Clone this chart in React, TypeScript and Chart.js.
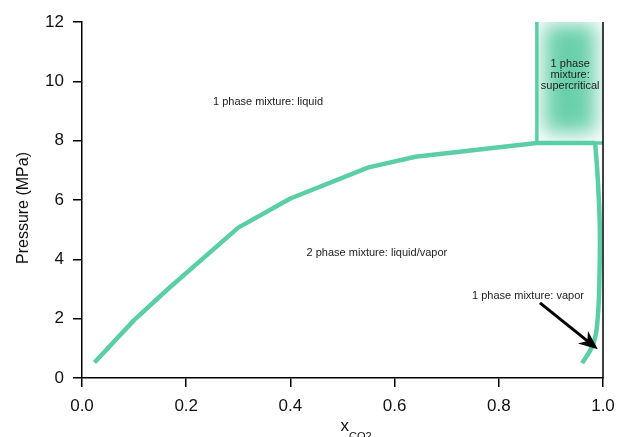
import React, { useEffect, useRef } from "react";
import { Chart, registerables } from "chart.js";

Chart.register(...registerables);

// Phase boundary: bubble (liquid) curve then the flat critical segment
const liquidX = [0.024, 0.1, 0.165, 0.3, 0.4, 0.55, 0.64, 0.873, 0.985];
const liquidP = [0.52, 1.95, 3.0, 5.07, 6.05, 7.1, 7.46, 7.92, 7.92];
// Dew (vapor) curve
const vaporX = [0.985, 0.99, 0.994, 0.993, 0.99, 0.982, 0.96];
const vaporP = [7.92, 6.7, 5.0, 3.3, 2.06, 1.18, 0.5];
// Supercritical box edges
const boxVertX = [0.873, 0.873];
const boxVertP = [7.92, 12];
const boxHorX = [0.873, 1.0];
const boxHorP = [7.92, 7.92];
const boxRangeX = [0.873, 1.0];
const boxRangeP = [7.92, 12];

const xTicks = [0, 0.2, 0.4, 0.6, 0.8, 1.0];
const yTicks = [0, 2, 4, 6, 8, 10, 12];

const labelTexts = ["1 phase mixture: liquid", "2 phase mixture: liquid/vapor", "1 phase mixture: vapor"];
const labelX = [0.357, 0.566, 0.856];
const labelP = [9.3, 4.21, 2.76];
const superLines = ["1 phase", "mixture:", "supercritical"];
const superX = 0.937;
const superP = 10.2;

const arrowFromX = 0.879;
const arrowFromP = 2.53;
const arrowToX = 0.990;
const arrowToP = 0.97;

const TEAL = "rgb(92,206,166)";
const FONT = "'Liberation Sans', Arial, Helvetica, sans-serif";

const pts = (xs: number[], ys: number[]) => xs.map((x, i) => ({ x, y: ys[i] }));

export default function App() {
  const ref = useRef<HTMLCanvasElement | null>(null);
  useEffect(() => {
    document.body.style.margin = "0";
    const canvas = ref.current!;
    const decor = {
      id: "decor",
      beforeDatasetsDraw(chart: any) {
        const { ctx, scales } = chart;
        const xs = scales.x, ys = scales.y;
        const l = xs.getPixelForValue(boxRangeX[0]);
        const r = xs.getPixelForValue(boxRangeX[1]);
        const t = ys.getPixelForValue(boxRangeP[1]);
        const b = ys.getPixelForValue(boxRangeP[0]);
        ctx.save();
        ctx.beginPath();
        ctx.rect(l, t, r - l, b - t);
        ctx.clip();
        ctx.filter = "blur(10px)";
        ctx.fillStyle = "rgba(80,200,158,0.85)";
        ctx.fillRect(l + 7, t + 2, r - l - 14, b - t - 12);
        ctx.restore();
      },
      afterDraw(chart: any) {
        const { ctx, scales, chartArea } = chart;
        const xs = scales.x, ys = scales.y;
        ctx.save();
        // right spine
        ctx.strokeStyle = "#000";
        ctx.lineWidth = 1.5;
        ctx.beginPath();
        ctx.moveTo(chartArea.right, chartArea.top);
        ctx.lineTo(chartArea.right, chartArea.bottom + 0.75);
        ctx.stroke();
        // labels
        ctx.fillStyle = "#222";
        ctx.font = `11px ${FONT}`;
        ctx.textAlign = "center";
        ctx.textBaseline = "middle";
        labelTexts.forEach((s, i) => {
          ctx.fillText(s, xs.getPixelForValue(labelX[i]), ys.getPixelForValue(labelP[i]));
        });
        const sx = xs.getPixelForValue(superX);
        const sy = ys.getPixelForValue(superP);
        superLines.forEach((s, i) => ctx.fillText(s, sx, sy + (i - 1) * 11));
        // arrow
        const ax0 = xs.getPixelForValue(arrowFromX), ay0 = ys.getPixelForValue(arrowFromP);
        const ax1 = xs.getPixelForValue(arrowToX), ay1 = ys.getPixelForValue(arrowToP);
        const ang = Math.atan2(ay1 - ay0, ax1 - ax0);
        const hl = 19, hw = 8;
        const bx = ax1 - hl * Math.cos(ang), by = ay1 - hl * Math.sin(ang);
        ctx.strokeStyle = "#000";
        ctx.fillStyle = "#000";
        ctx.lineWidth = 3;
        ctx.beginPath();
        ctx.moveTo(ax0, ay0);
        ctx.lineTo(ax1 - hl * 0.6 * Math.cos(ang), ay1 - hl * 0.6 * Math.sin(ang));
        ctx.stroke();
        ctx.beginPath();
        ctx.moveTo(ax1, ay1);
        ctx.lineTo(bx + hw * Math.sin(ang), by - hw * Math.cos(ang));
        ctx.lineTo(ax1 - hl * 0.7 * Math.cos(ang), ay1 - hl * 0.7 * Math.sin(ang));
        ctx.lineTo(bx - hw * Math.sin(ang), by + hw * Math.cos(ang));
        ctx.closePath();
        ctx.fill();
        // axis titles
        ctx.fillStyle = "#111";
        ctx.font = `16px ${FONT}`;
        ctx.save();
        ctx.translate(24, (chartArea.top + chartArea.bottom) / 2 + 8);
        ctx.rotate(-Math.PI / 2);
        ctx.textAlign = "center";
        ctx.textBaseline = "middle";
        ctx.fillText("Pressure (MPa)", 0, 0);
        ctx.restore();
        const cx = (chartArea.left + chartArea.right) / 2;
        ctx.textAlign = "left";
        ctx.textBaseline = "alphabetic";
        const start = cx - 2;
        ctx.font = `17px ${FONT}`;
        const wx = ctx.measureText("x").width;
        ctx.fillText("x", start, 431);
        ctx.font = `11px ${FONT}`;
        ctx.fillText("CO2", start + wx, 440);
        ctx.restore();
      },
    };
    const lineDs = (data: any, width: number, tension = 0) => ({
      data,
      showLine: true,
      borderColor: TEAL,
      backgroundColor: TEAL,
      borderWidth: width,
      pointRadius: 0,
      tension,
      borderCapStyle: "butt",
      borderJoinStyle: "round",
      clip: false,
    });
    const chart = new Chart(canvas, {
      type: "scatter",
      data: {
        datasets: [
          lineDs(pts(liquidX, liquidP), 4.5),
          lineDs(pts(vaporX, vaporP), 4.5, 0.4),
          lineDs(pts(boxVertX, boxVertP), 3.5),
          lineDs(pts(boxHorX, boxHorP), 3.5),
        ] as any,
      },
      options: {
        animation: false,
        responsive: false,
        layout: { padding: { top: 22, right: 14, left: 0, bottom: 0 } },
        plugins: { legend: { display: false }, tooltip: { enabled: false } },
        scales: {
          x: {
            type: "linear",
            min: 0,
            max: 1,
            afterBuildTicks: (s: any) => { s.ticks = xTicks.map((v) => ({ value: v })); },
            afterFit: (s: any) => { s.height = 59; s.paddingRight = 0; s.paddingLeft = 0; },
            ticks: {
              color: "#111",
              font: { size: 17, family: FONT },
              padding: 9,
              maxRotation: 0,
              callback: (v: any) => Number(v).toFixed(1),
            },
            grid: { drawOnChartArea: false, tickLength: 9, color: "#000", lineWidth: 1.5 },
            border: { display: true, color: "#000", width: 1.5 },
          },
          y: {
            type: "linear",
            min: 0,
            max: 12,
            afterBuildTicks: (s: any) => { s.ticks = yTicks.map((v) => ({ value: v })); },
            afterFit: (s: any) => { s.width = 82; s.paddingTop = 0; s.paddingBottom = 0; },
            ticks: { color: "#111", font: { size: 17, family: FONT }, padding: 9 },
            grid: { drawOnChartArea: false, tickLength: 9, color: "#000", lineWidth: 1.5 },
            border: { display: true, color: "#000", width: 1.5 },
          },
        },
      },
      plugins: [decor],
    });
    return () => chart.destroy();
  }, []);
  return <canvas ref={ref} width={617} height={437} style={{ display: "block" }} />;
}
